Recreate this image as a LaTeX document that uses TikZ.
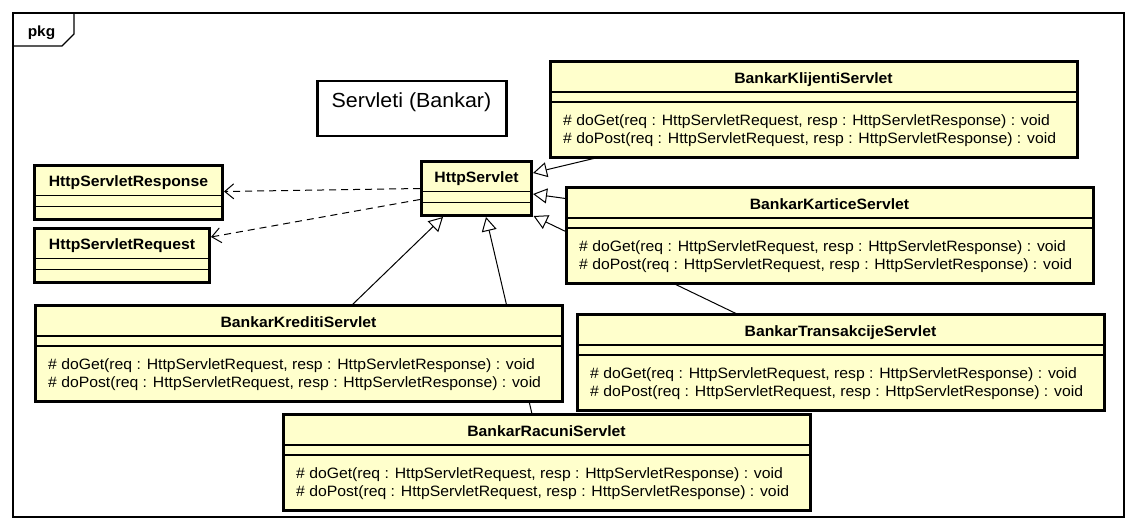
\documentclass[tikz,border=0pt]{standalone}
\usepackage{fontspec}
\setmainfont{Liberation Sans}[FakeStretch=1.05]
\usetikzlibrary{arrows.meta,calc}
\pgfdeclarelayer{bg}
\pgfsetlayers{bg,main}
\definecolor{classfill}{RGB}{255,255,204}
\tikzset{
  classbox/.style={draw, line width=3pt, fill=classfill, inner sep=0pt, outer sep=0pt, anchor=north west, minimum width=527pt, minimum height=96pt},
  smallbox/.style={draw, line width=3pt, fill=classfill, inner sep=0pt, outer sep=0pt, anchor=north west, minimum height=54pt},
  sepline/.style={line width=1.2pt},
  titletext/.style={font=\fontsize{15}{17}\selectfont\bfseries, anchor=base, inner sep=0pt},
  optext/.style={font=\fontsize{15}{17}\selectfont, anchor=base west, inner sep=0pt},
  gen/.style={line width=1pt, -{Triangle[open, length=14pt, width=15pt, line width=1pt]}},
  dep/.style={line width=1pt, dash pattern=on 7pt off 5pt, -{Straight Barb[length=9pt, width=15pt, line width=1pt]}},
}
\newcommand\servletclass[4]{%
  \node[classbox] (#1) at (#2,#3) {};
  \draw[sepline] ($(#1.north west)+(0,31)$) -- ($(#1.north east)+(0,31)$);
  \draw[sepline] ($(#1.north west)+(0,41)$) -- ($(#1.north east)+(0,41)$);
  \node[titletext] (#1-t) at ($(#1.north)+(0,22)$) {#4};
  \node[optext] (#1-m1) at ($(#1.north west)+(13,64)$) {\# doGet(req : HttpServletRequest, resp : HttpServletResponse) : void};
  \node[optext] (#1-m2) at ($(#1.north west)+(13,82)$) {\# doPost(req : HttpServletRequest, resp : HttpServletResponse) : void};
}
\newcommand\smallclass[5]{%
  \node[smallbox, minimum width=#4] (#1) at (#2,#3) {};
  \draw[sepline] ($(#1.north west)+(0,30)$) -- ($(#1.north east)+(0,30)$);
  \draw[sepline] ($(#1.north west)+(0,41)$) -- ($(#1.north east)+(0,41)$);
  \node[titletext] (#1-t) at ($(#1.north)+(0,21)$) {#5};
}
\begin{document}
\begin{tikzpicture}[x=1pt,y=-1pt]
\useasboundingbox (0,0) rectangle (1137,530);
% frame
\draw[line width=1.2pt] (13,13) rectangle (1124,517);
\draw[line width=1.2pt] (13,46) -- (62,46) -- (74,34) -- (74,13);
\node[font=\fontsize{14.7}{16}\selectfont\bfseries, anchor=base, inner sep=0pt] (pkg) at (41.5,36) {pkg};
% note
\node[draw, line width=2.5pt, minimum width=189pt, minimum height=55pt, anchor=north west, inner sep=0pt, outer sep=0pt] (note) at (317.5,81) {};
\node[anchor=base west, font=\fontsize{20.4}{23}\selectfont, inner sep=0pt] (notetext) at ($(note.north west)+(14,26)$) {Servleti (Bankar)};
% small classes
\smallclass{hs}{421.5}{161.5}{110pt}{HttpServlet}
\smallclass{resp}{34.5}{165.5}{188pt}{HttpServletResponse}
\smallclass{req}{34.5}{228.5}{175pt}{HttpServletRequest}
% servlet classes
\servletclass{kl}{550}{61}{BankarKlijentiServlet}
\servletclass{ka}{566}{187}{BankarKarticeServlet}
\servletclass{kr}{35}{305}{BankarKreditiServlet}
\servletclass{tr}{577}{314}{BankarTransakcijeServlet}
\servletclass{ra}{283}{414}{BankarRacuniServlet}
% connectors
\begin{pgfonlayer}{bg}
\fill[white] (0,0) rectangle (1137,530);
\draw[gen] ($(kl.south west)+(50,0)$) -- ($(hs.north east)+(1.5,11.5)$);
\draw[gen] (ka.center) -- ($(hs.east)+(1.5,5.5)$);
\draw[gen] ($(tr.north west)+(160,0)$) -- ($(hs.south east)+(2,0.5)$);
\draw[gen] ($(kr.north west)+(317,0)$) -- ($(hs.south west)+(21.5,1.5)$);
\draw[gen] ($(ra.north west)+(249,0)$) -- ($(hs.south west)+(64.5,1.5)$);
\draw[dep] ($(hs.west)+(-1.5,0)$) -- ($(resp.east)+(1.5,-1)$);
\draw[dep] ($(hs.west)+(-1.5,11)$) -- ($(req.north east)+(1.5,8.5)$);
\end{pgfonlayer}
\end{tikzpicture}
\end{document}
